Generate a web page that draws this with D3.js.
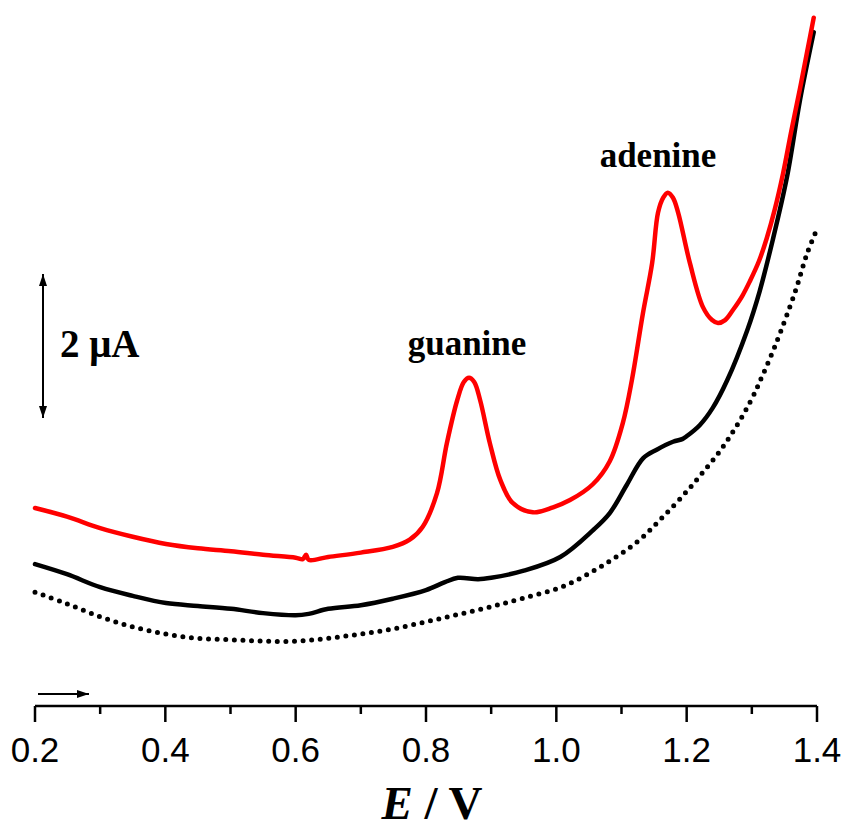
<!DOCTYPE html>
<html>
<head>
<meta charset="utf-8">
<script src="https://cdn.jsdelivr.net/npm/d3@7"></script>
<style>
  body { margin: 0; background: #fff; }
  svg { display: block; }
</style>
</head>
<body>
<div id="chart"></div>
<script>
// potential (V) and current (uA)
const redE = [0.200, 0.249, 0.300, 0.350, 0.401, 0.450, 0.501, 0.550, 0.600, 0.611, 0.616, 0.620, 0.650, 0.700, 0.749, 0.775, 0.795, 0.817, 0.832, 0.848, 0.858, 0.866, 0.874, 0.883, 0.898, 0.914, 0.933, 0.964, 0.995, 1.021, 1.056, 1.082, 1.102, 1.116, 1.133, 1.147, 1.156, 1.164, 1.171, 1.179, 1.187, 1.205, 1.225, 1.239, 1.248, 1.259, 1.271, 1.285, 1.297, 1.311, 1.323, 1.335, 1.348, 1.360, 1.374, 1.386, 1.395];
const redI = [2.75, 2.63, 2.47, 2.35, 2.25, 2.19, 2.15, 2.10, 2.06, 2.04, 2.10, 2.03, 2.07, 2.13, 2.21, 2.31, 2.49, 2.96, 3.65, 4.25, 4.50, 4.56, 4.50, 4.25, 3.65, 3.14, 2.82, 2.69, 2.76, 2.86, 3.08, 3.40, 3.93, 4.53, 5.46, 6.15, 6.85, 7.06, 7.13, 7.06, 6.85, 6.15, 5.54, 5.36, 5.32, 5.36, 5.50, 5.69, 5.90, 6.18, 6.50, 6.89, 7.40, 7.96, 8.58, 9.14, 9.56];

const blackE = [0.200, 0.249, 0.300, 0.350, 0.401, 0.450, 0.501, 0.550, 0.600, 0.620, 0.650, 0.700, 0.749, 0.800, 0.829, 0.849, 0.880, 0.900, 0.950, 1.006, 1.056, 1.082, 1.108, 1.133, 1.154, 1.179, 1.194, 1.199, 1.220, 1.240, 1.262, 1.293, 1.312, 1.332, 1.354, 1.374, 1.395];
const blackI = [1.97, 1.83, 1.65, 1.53, 1.43, 1.39, 1.35, 1.29, 1.26, 1.28, 1.35, 1.40, 1.49, 1.61, 1.72, 1.78, 1.76, 1.78, 1.88, 2.07, 2.44, 2.68, 3.07, 3.44, 3.56, 3.67, 3.71, 3.74, 3.90, 4.14, 4.52, 5.22, 5.76, 6.47, 7.35, 8.42, 9.36];

const dotE = [0.200, 0.249, 0.300, 0.350, 0.401, 0.450, 0.501, 0.550, 0.600, 0.650, 0.700, 0.749, 0.800, 0.849, 0.900, 0.950, 1.010, 1.067, 1.124, 1.164, 1.202, 1.228, 1.251, 1.271, 1.289, 1.305, 1.312, 1.336, 1.366, 1.385, 1.398];
const dotI = [1.58, 1.42, 1.24, 1.10, 1.00, 0.94, 0.92, 0.90, 0.90, 0.94, 1.00, 1.07, 1.17, 1.27, 1.38, 1.50, 1.66, 1.93, 2.28, 2.63, 3.00, 3.28, 3.54, 3.81, 4.08, 4.36, 4.50, 5.01, 5.74, 6.29, 6.58];

const xTicks = [0.2, 0.4, 0.6, 0.8, 1.0, 1.2, 1.4];
const xMinorTicks = [0.3, 0.5, 0.7, 0.9, 1.1, 1.3];

const width = 847, height = 830;

const svg = d3.select("#chart").append("svg")
    .attr("width", width)
    .attr("height", height);

const x = d3.scaleLinear().domain([0.2, 1.4]).range([35, 817]);
const y = d3.scaleLinear().domain([0, 9.8]).range([706, 706 - 9.8 * 72]);

const line = d3.line()
    .x(d => x(d[0]))
    .y(d => y(d[1]))
    .curve(d3.curveCatmullRom.alpha(0.5));

// dotted background
svg.append("path")
    .datum(d3.zip(dotE, dotI))
    .attr("d", line)
    .attr("fill", "none")
    .attr("stroke", "#000")
    .attr("stroke-width", 5)
    .attr("stroke-linecap", "round")
    .attr("stroke-dasharray", "0 8.6");

// black curve
svg.append("path")
    .datum(d3.zip(blackE, blackI))
    .attr("d", line)
    .attr("fill", "none")
    .attr("stroke", "#000")
    .attr("stroke-width", 4.5)
    .attr("stroke-linejoin", "round")
    .attr("stroke-linecap", "round");

// red curve
svg.append("path")
    .datum(d3.zip(redE, redI))
    .attr("d", line)
    .attr("fill", "none")
    .attr("stroke", "#ff0000")
    .attr("stroke-width", 4.5)
    .attr("stroke-linejoin", "round")
    .attr("stroke-linecap", "round");

// x axis
const axisY = 706;
svg.append("line")
    .attr("x1", x(0.2)).attr("x2", x(1.4))
    .attr("y1", axisY).attr("y2", axisY)
    .attr("stroke", "#000").attr("stroke-width", 2.5);

svg.selectAll(".major").data(xTicks).enter().append("line")
    .attr("x1", d => x(d)).attr("x2", d => x(d))
    .attr("y1", axisY).attr("y2", axisY + 16)
    .attr("stroke", "#000").attr("stroke-width", 2.5);

svg.selectAll(".minor").data(xMinorTicks).enter().append("line")
    .attr("x1", d => x(d)).attr("x2", d => x(d))
    .attr("y1", axisY).attr("y2", axisY + 8)
    .attr("stroke", "#000").attr("stroke-width", 2.5);

svg.selectAll(".tlabel").data(xTicks).enter().append("text")
    .attr("x", d => x(d))
    .attr("y", 762)
    .attr("text-anchor", "middle")
    .attr("font-family", "'Liberation Sans', Arial, sans-serif")
    .attr("font-size", 35)
    .text(d => d.toFixed(1));

// axis title
const title = svg.append("text")
    .attr("x", 432)
    .attr("y", 819)
    .attr("text-anchor", "middle")
    .attr("font-family", "'Liberation Serif', 'Times New Roman', serif")
    .attr("font-weight", "bold")
    .attr("font-size", 47);
title.append("tspan").attr("font-style", "italic").text("E");
title.append("tspan").text(" / V");

// arrowheads
const defs = svg.append("defs");
defs.append("marker")
    .attr("id", "head")
    .attr("viewBox", "0 0 12 8")
    .attr("refX", 12).attr("refY", 4)
    .attr("markerWidth", 12).attr("markerHeight", 8)
    .attr("markerUnits", "userSpaceOnUse")
    .attr("orient", "auto-start-reverse")
    .append("path")
    .attr("d", "M0,0 L12,4 L0,8 Z")
    .attr("fill", "#000");

// scan direction arrow
svg.append("line")
    .attr("x1", 38).attr("x2", 89)
    .attr("y1", 694).attr("y2", 694)
    .attr("stroke", "#000").attr("stroke-width", 2)
    .attr("marker-end", "url(#head)");

// 2 uA scale bar
svg.append("line")
    .attr("x1", 43).attr("x2", 43)
    .attr("y1", y(4.0)).attr("y2", y(6.0))
    .attr("stroke", "#000").attr("stroke-width", 2)
    .attr("marker-start", "url(#head)")
    .attr("marker-end", "url(#head)");

svg.append("text")
    .attr("x", 60).attr("y", 357)
    .attr("font-family", "'Liberation Serif', 'Times New Roman', serif")
    .attr("font-weight", "bold")
    .attr("font-size", 39)
    .text("2 μA");

// peak labels
svg.append("text")
    .attr("x", 467).attr("y", 355)
    .attr("text-anchor", "middle")
    .attr("font-family", "'Liberation Serif', 'Times New Roman', serif")
    .attr("font-weight", "bold")
    .attr("font-size", 35)
    .text("guanine");

svg.append("text")
    .attr("x", 658).attr("y", 167)
    .attr("text-anchor", "middle")
    .attr("font-family", "'Liberation Serif', 'Times New Roman', serif")
    .attr("font-weight", "bold")
    .attr("font-size", 35)
    .text("adenine");
</script>
</body>
</html>
